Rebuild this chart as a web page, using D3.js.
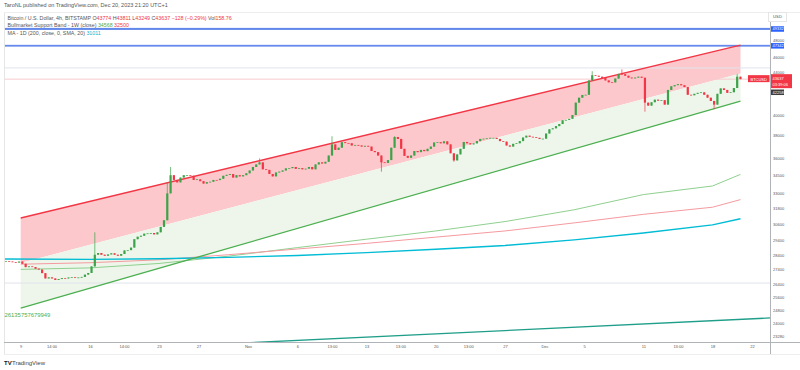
<!DOCTYPE html>
<html><head><meta charset="utf-8">
<script src="https://cdn.jsdelivr.net/npm/d3@7"></script>
<style>body{margin:0;background:#fff;} svg{display:block;font-family:"Liberation Sans",Arial,sans-serif;}</style>
</head><body><svg id="c" width="800" height="370"></svg>
<script>
// ---------------- DATA ----------------
const barStart = "2023-10-07T08:00";   // 8h candles
const barHours = 8;
const firstOpen = 27950;
const closes = [
 27960,27930,
 27900,27860,27930, 27780,27550,27600, 27560,27450,27390, 27150,26800,26870, 26800,26700,26760,
 26820,26800,26860, 26880,26840,26860, 26900,27050,27160, 27600,28400,28520, 28400,28330,28420,
 28500,28400,28330, 28450,28700,28720, 28900,29500,29680, 29750,29900,29920, 29950,29850,30000,
 30400,30900,33000, 34500,34100,33900, 34300,34500,34500, 34450,34100,34150, 34000,33800,33920,
 33950,34100,34090, 34200,34450,34530, 34600,34300,34500, 34400,34500,34660,
 34900,35200,35420, 35600,35000,34950, 34600,34400,34730, 34800,34900,35080, 35100,35200,35040,
 35100,35000,35050, 35200,35000,35420, 35600,35500,35650, 36200,37200,36700, 36900,37400,37320,
 37300,37100,37150, 37100,37000,37070, 37000,36600,36500, 36200,35600,35550, 35800,36900,37880,
 37700,36800,36170, 36000,36200,36600, 36500,36700,36590, 36800,37000,37370, 37400,37300,37480,
 37200,36400,35770, 36300,36800,37420, 37300,37200,37290, 37500,37700,37720, 37750,37800,37800,
 37700,37500,37450, 37100,37000,37250, 37300,37500,37830, 38000,37900,37860, 37800,37700,37720,
 38200,38600,38690, 38900,39100,39460, 39500,39600,39970, 41200,41700,41980, 42000,43500,44060,
 44000,43900,43770, 43500,43300,43290, 43700,44200,44170, 44000,43800,43720, 43800,43900,43790,
 41200,40900,41240, 41500,41400,41450, 41000,42500,42880, 43000,43100,42990, 42800,42000,41950,
 42100,42200,42250, 42000,41700,41370, 41000,42100,42660, 42500,42200,42260, 42700,43900,43637
];
const wickDates = ["2023-10-16T08:00","2023-10-23T16:00","2023-10-24T00:00","2023-11-02T00:00","2023-11-09T08:00","2023-11-14T08:00","2023-11-15T16:00","2023-11-21T16:00","2023-12-05T16:00","2023-12-08T16:00","2023-12-11T00:00","2023-12-18T00:00","2023-12-20T08:00"];
const wickHighs = [30000, 33900, 35200, 35950, 37950, null, 37950, null, 44500, 44700, null, null, 44200];
const wickLows  = [null, null, null, null, null, 34800, null, 35650, null, null, 40300, 40550, null];

// Channel (start / end)
const channelDates = ["2023-10-09T00:00", "2023-12-20T20:00"];
const channelUpper = [31070, 47420];
const channelMid   = [27830, 44250];
const channelLower = [24930, 41360];

// MA 1D (200) - cyan
const maDates  = ["2023-10-07T08:00","2023-10-16T00:00","2023-10-23T00:00","2023-10-30T00:00","2023-11-06T00:00","2023-11-13T00:00","2023-11-20T00:00","2023-11-27T00:00","2023-12-04T00:00","2023-12-11T00:00","2023-12-18T00:00","2023-12-20T20:00"];
const maValues = [28100, 28080, 28120, 28220, 28350, 28550, 28780, 29050, 29450, 29950, 30550, 31011];

// Bullmarket support band - weekly
const bandDates = ["2023-10-09T00:00","2023-10-16T00:00","2023-10-23T00:00","2023-10-30T00:00","2023-11-06T00:00","2023-11-13T00:00","2023-11-20T00:00","2023-11-27T00:00","2023-12-04T00:00","2023-12-11T00:00","2023-12-18T00:00","2023-12-20T20:00"];
const sma20w = [27400, 27500, 27800, 28300, 28900, 29500, 30100, 30800, 31700, 32900, 33600, 34568];
const ema21w = [27750, 27850, 28050, 28400, 28800, 29200, 29650, 30100, 30700, 31350, 31900, 32500];

// Long trend line (bottom)
const trendDates  = ["2023-10-07T08:00", "2023-12-23T20:00"];
const trendValues = [22260, 24330];

// Horizontal levels
const blueLevels = [49332, 47342];
const grayLevels = [44850, 26500];
const lastPrice = 43637;
const darkLevel = 42258;

// Axis ticks
const priceTicks = [48000, 46000, 44000, 40000, 38000, 36000, 34500, 33000, 31800, 30600, 29400, 28400, 27400, 26400, 25600, 24800, 24000, 23280];
const timeTickDates  = ["2023-10-09T00:00","2023-10-12T03:00","2023-10-16T00:00","2023-10-19T11:00","2023-10-23T00:00","2023-10-27T00:00","2023-11-01T00:00","2023-11-06T00:00","2023-11-09T12:00","2023-11-13T00:00","2023-11-16T10:00","2023-11-20T00:00","2023-11-23T07:00","2023-11-27T00:00","2023-12-01T00:00","2023-12-05T00:00","2023-12-11T00:00","2023-12-14T12:00","2023-12-18T00:00","2023-12-22T00:00"];
const timeTickLabels = ["9","14:00","16","14:00","23","27","Nov","6","13:00","13","13:00","20","13:00","27","Dec","5","11","13:00","18","22"];

// ---------------- CHART ----------------
const P = d3.timeParse("%Y-%m-%dT%H:%M");
const svg = d3.select("#c");
const L = 4, R = 770, T = 12, B = 342;
const UP = "#3da34b", DOWN = "#f23645";

const x = d3.scaleTime().domain([P("2023-10-09T00:00"), P("2023-12-22T00:00")]).range([20.7, 752]);
const y = d3.scaleLog().domain([23280, 49332]).range([336, 29]);

svg.append("rect").attr("width", 800).attr("height", 370).attr("fill", "#fff");
svg.append("defs").append("clipPath").attr("id", "plot")
  .append("rect").attr("x", L).attr("y", T).attr("width", R - L).attr("height", B - T);
const g = svg.append("g").attr("clip-path", "url(#plot)");

// channel fills
const cd = channelDates.map(P);
const areaPink = d3.area().x((d, i) => x(cd[i])).y0((d, i) => y(channelMid[i])).y1((d, i) => y(channelUpper[i]));
const areaGreen = d3.area().x((d, i) => x(cd[i])).y0((d, i) => y(channelLower[i])).y1((d, i) => y(channelMid[i]));
g.append("path").attr("d", areaPink(cd)).attr("fill", "#fcc8cc");
g.append("path").attr("d", areaGreen(cd)).attr("fill", "#eef6eb");

// horizontal levels
grayLevels.forEach(v => g.append("line").attr("x1", L).attr("x2", R).attr("y1", y(v)).attr("y2", y(v)).attr("stroke", "#e0e3eb").attr("stroke-width", 1));
g.append("line").attr("x1", L).attr("x2", R).attr("y1", y(lastPrice)).attr("y2", y(lastPrice)).attr("stroke", "#f9c9cd").attr("stroke-width", 1);
blueLevels.forEach(v => {
  g.append("line").attr("x1", L).attr("x2", R).attr("y1", y(v) - 0.8).attr("y2", y(v) - 0.8).attr("stroke", "#c9d6fb").attr("stroke-width", 1);
  g.append("line").attr("x1", L).attr("x2", R).attr("y1", y(v)).attr("y2", y(v)).attr("stroke", "#3b6ae6").attr("stroke-width", 1.4);
});

// line generator helper
function drawLine(dates, values, color, w) {
  const ds = dates.map(P);
  const ln = d3.line().x((d, i) => x(ds[i])).y((d, i) => y(values[i]));
  g.append("path").attr("d", ln(ds)).attr("fill", "none").attr("stroke", color).attr("stroke-width", w);
}
drawLine(bandDates, sma20w, "#8fd08f", 1);
drawLine(bandDates, ema21w, "#f59aa0", 1);
drawLine(maDates, maValues, "#00bcd4", 1.4);
drawLine(trendDates, trendValues, "#1f9e89", 1.3);
drawLine(channelDates, channelUpper, "#f23645", 1.3);
drawLine(channelDates, channelLower, "#4caf50", 1.3);

// candles
const t0 = P(barStart);
const wickMap = new Map(wickDates.map((d, i) => [+P(d), i]));
const bars = closes.map((c, i) => {
  const start = new Date(+t0 + i * barHours * 3600e3);
  const o = i ? closes[i - 1] : firstOpen;
  let hi = Math.max(o, c), lo = Math.min(o, c);
  const wi = wickMap.get(+start);
  if (wi !== undefined) {
    if (wickHighs[wi] != null) hi = wickHighs[wi];
    if (wickLows[wi] != null) lo = wickLows[wi];
  }
  return { t: new Date(+start + barHours / 2 * 3600e3), o, c, hi, lo };
});
const cg = g.append("g");
bars.forEach(b => {
  const col = b.c >= b.o ? UP : DOWN;
  const cx = x(b.t);
  cg.append("line").attr("x1", cx).attr("x2", cx).attr("y1", y(b.hi)).attr("y2", y(b.lo)).attr("stroke", col).attr("stroke-width", 0.7);
  const y1 = y(Math.max(b.o, b.c)), y2 = y(Math.min(b.o, b.c));
  cg.append("rect").attr("x", cx - 1.1).attr("width", 2.2).attr("y", y1).attr("height", Math.max(0.7, y2 - y1)).attr("fill", col);
});

// frame
const frame = svg.append("g").attr("stroke-width", 1).attr("fill", "none");
frame.append("line").attr("x1", L + 0.5).attr("x2", L + 0.5).attr("y1", T).attr("y2", 354).attr("stroke", "#e6e6e6");
frame.append("line").attr("x1", L).attr("x2", 800).attr("y1", T + 0.5).attr("y2", T + 0.5).attr("stroke", "#eeeeee");
frame.append("line").attr("x1", R + 0.5).attr("x2", R + 0.5).attr("y1", T).attr("y2", 354).attr("stroke", "#b0b3b8");
frame.append("line").attr("x1", L).attr("x2", 800).attr("y1", B + 0.5).attr("y2", B + 0.5).attr("stroke", "#b0b3b8");
frame.append("line").attr("x1", L).attr("x2", 800).attr("y1", 354.5).attr("y2", 354.5).attr("stroke", "#eeeeee");

// price axis
const ya = svg.append("g").attr("transform", `translate(${R + 1},0)`)
  .call(d3.axisRight(y).tickValues(priceTicks).tickSize(0).tickPadding(2).tickFormat(d3.format("d")));
ya.select(".domain").remove();
ya.selectAll("text").attr("font-size", 4).attr("fill", "#555").attr("font-family", "Liberation Sans, Arial, sans-serif");
// the 44000 label sits just above the last-price badge
ya.selectAll(".tick").filter(d => d === 44000).select("text").attr("dy", "-0.6em");

// time axis
const td = timeTickDates.map(P);
const xa = svg.append("g").attr("transform", `translate(0,${B + 1})`)
  .call(d3.axisBottom(x).tickValues(td).tickSize(0).tickPadding(2).tickFormat((d, i) => timeTickLabels[i]));
xa.select(".domain").remove();
xa.selectAll("text").attr("font-size", 4).attr("fill", "#555").attr("font-family", "Liberation Sans, Arial, sans-serif");

// axis badges
function badge(v, bg, label, w, h) {
  const yy = y(v);
  svg.append("rect").attr("x", R + 1).attr("y", yy - h / 2).attr("width", w).attr("height", h).attr("fill", bg);
  svg.append("text").attr("x", R + 2.5).attr("y", yy + 1.4).attr("font-size", 4).attr("fill", "#fff").text(label);
}
badge(blueLevels[0], "#2962ff", "49332", 13, 5.5);
badge(blueLevels[1], "#2962ff", "47342", 13, 5.5);
badge(darkLevel, "#3d3d3d", "42258", 13, 5.5);
// last price badge with countdown
{
  const yy = y(lastPrice);
  svg.append("rect").attr("x", R + 1).attr("y", yy - 5).attr("width", 21).attr("height", 14).attr("fill", "#f23645");
  svg.append("text").attr("x", R + 2.5).attr("y", yy + 0.8).attr("font-size", 4).attr("fill", "#fff").text("43637");
  svg.append("text").attr("x", R + 2.5).attr("y", yy + 6.5).attr("font-size", 4).attr("fill", "#fff").text("03:39:06");
  svg.append("rect").attr("x", 748).attr("y", yy - 4).attr("width", 21.5).attr("height", 7).attr("fill", "#f23645");
  svg.append("text").attr("x", 758.7).attr("y", yy + 1.4).attr("font-size", 4).attr("fill", "#fff").attr("text-anchor", "middle").text("BTCUSD");
}
// USD box
svg.append("rect").attr("x", 768.5).attr("y", 12.5).attr("width", 18).attr("height", 9).attr("fill", "#fff").attr("stroke", "#e6e6e6");
svg.append("text").attr("x", 777.5).attr("y", 18.3).attr("font-size", 4.2).attr("fill", "#555").attr("text-anchor", "middle").text("USD");

// header / legend
svg.append("text").attr("x", 4).attr("y", 7).attr("font-size", 5.5).attr("fill", "#555")
  .text("TaroNL published on TradingView.com, Dec 20, 2023 21:20 UTC+1");
function richText(xp, yp, parts, fs) {
  const t = svg.append("text").attr("x", xp).attr("y", yp).attr("font-size", fs);
  parts.forEach(p => t.append("tspan").attr("fill", p[1]).text(p[0]));
}
const GR = "#555", RD = "#f23645";
richText(7.5, 19.6, [["Bitcoin / U.S. Dollar, 4h, BITSTAMP O", GR], ["43774", RD], [" H", GR], ["43811", RD], [" L", GR], ["43249", RD], [" C", GR], ["43637", RD], [" −128 (−0.29%)", RD], [" Vol", GR], ["158.76", RD]], 5.3);
richText(7.5, 26.9, [["Bullmarket Support Band - 1W (close) ", GR], ["34568", "#4caf50"], [" ", GR], ["32500", RD]], 5.3);
richText(7.5, 35.4, [["MA - 1D (200, close, 0, SMA, 20) ", GR], ["31011", "#00bcd4"]], 5.3);

// indicator label bottom-left
svg.append("text").attr("x", 4.5).attr("y", 316.8).attr("font-size", 5.9).attr("fill", "#4caf50").text("26135757679949");

// footer
svg.append("text").attr("x", 4).attr("y", 364.5).attr("font-size", 6).attr("font-weight", "bold").attr("fill", "#131722").text("TV");
svg.append("text").attr("x", 12).attr("y", 364.5).attr("font-size", 6).attr("fill", "#444").text("TradingView");
</script></body></html>
